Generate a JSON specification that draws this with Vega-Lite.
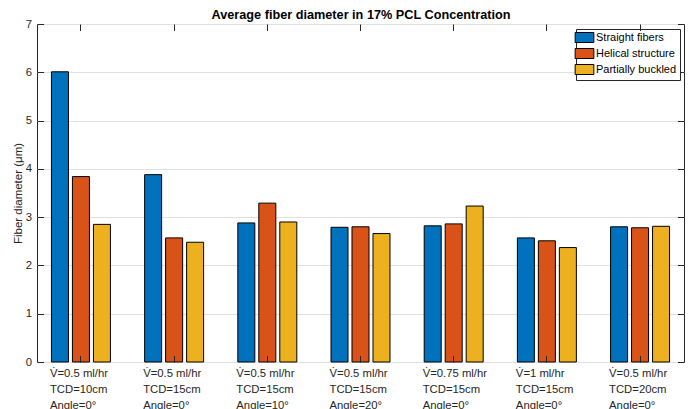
{
  "$schema": "https://vega.github.io/schema/vega-lite/v6.json",
  "width": 647,
  "height": 338,
  "autosize": {"type": "none"},
  "padding": {"left": 37, "top": 24, "right": 9, "bottom": 47},
  "background": "white",
  "config": {
    "font": "Liberation Sans",
    "view": {"stroke": "#262626", "strokeWidth": 1}
  },
  "data": {
    "values": [
      {"setting": "V\u0307=0.5 ml/hr|\u00a0TCD=10cm|\u00a0Angle=0°", "structure": "Straight fibers", "diameter": 6.01},
      {"setting": "V\u0307=0.5 ml/hr|\u00a0TCD=10cm|\u00a0Angle=0°", "structure": "Helical structure", "diameter": 3.84},
      {"setting": "V\u0307=0.5 ml/hr|\u00a0TCD=10cm|\u00a0Angle=0°", "structure": "Partially buckled", "diameter": 2.85},
      {"setting": "V\u0307=0.5 ml/hr|\u00a0TCD=15cm|\u00a0Angle=0°", "structure": "Straight fibers", "diameter": 3.88},
      {"setting": "V\u0307=0.5 ml/hr|\u00a0TCD=15cm|\u00a0Angle=0°", "structure": "Helical structure", "diameter": 2.57},
      {"setting": "V\u0307=0.5 ml/hr|\u00a0TCD=15cm|\u00a0Angle=0°", "structure": "Partially buckled", "diameter": 2.48},
      {"setting": "V\u0307=0.5 ml/hr|\u00a0TCD=15cm|\u00a0Angle=10°", "structure": "Straight fibers", "diameter": 2.88},
      {"setting": "V\u0307=0.5 ml/hr|\u00a0TCD=15cm|\u00a0Angle=10°", "structure": "Helical structure", "diameter": 3.29},
      {"setting": "V\u0307=0.5 ml/hr|\u00a0TCD=15cm|\u00a0Angle=10°", "structure": "Partially buckled", "diameter": 2.9},
      {"setting": "V\u0307=0.5 ml/hr|\u00a0TCD=15cm|\u00a0Angle=20°", "structure": "Straight fibers", "diameter": 2.79},
      {"setting": "V\u0307=0.5 ml/hr|\u00a0TCD=15cm|\u00a0Angle=20°", "structure": "Helical structure", "diameter": 2.8},
      {"setting": "V\u0307=0.5 ml/hr|\u00a0TCD=15cm|\u00a0Angle=20°", "structure": "Partially buckled", "diameter": 2.66},
      {"setting": "V\u0307=0.75 ml/hr|\u00a0TCD=15cm|\u00a0Angle=0°", "structure": "Straight fibers", "diameter": 2.82},
      {"setting": "V\u0307=0.75 ml/hr|\u00a0TCD=15cm|\u00a0Angle=0°", "structure": "Helical structure", "diameter": 2.86},
      {"setting": "V\u0307=0.75 ml/hr|\u00a0TCD=15cm|\u00a0Angle=0°", "structure": "Partially buckled", "diameter": 3.23},
      {"setting": "V\u0307=1 ml/hr|\u00a0TCD=15cm|\u00a0Angle=0°", "structure": "Straight fibers", "diameter": 2.57},
      {"setting": "V\u0307=1 ml/hr|\u00a0TCD=15cm|\u00a0Angle=0°", "structure": "Helical structure", "diameter": 2.51},
      {"setting": "V\u0307=1 ml/hr|\u00a0TCD=15cm|\u00a0Angle=0°", "structure": "Partially buckled", "diameter": 2.37},
      {"setting": "V\u0307=0.5 ml/hr|\u00a0TCD=20cm|\u00a0Angle=0°", "structure": "Straight fibers", "diameter": 2.8},
      {"setting": "V\u0307=0.5 ml/hr|\u00a0TCD=20cm|\u00a0Angle=0°", "structure": "Helical structure", "diameter": 2.78},
      {"setting": "V\u0307=0.5 ml/hr|\u00a0TCD=20cm|\u00a0Angle=0°", "structure": "Partially buckled", "diameter": 2.81}
    ]
  },
  "layer": [
    {
      "mark": {"type": "bar", "stroke": "#000000", "strokeWidth": 1},
      "encoding": {
        "x": {
          "field": "setting",
          "type": "nominal",
          "sort": null,
          "scale": {"paddingInner": 0.367, "paddingOuter": 0.155},
          "axis": {
            "orient": "bottom",
            "title": null,
            "domain": false,
            "labelExpr": "split(datum.label, '|')",
            "labelAngle": 0,
            "labelAlign": "left",
            "labelBaseline": "top",
            "labelOffset": -31,
            "labelPadding": 11.5,
            "labelLineHeight": 16,
            "labelFont": "Liberation Sans",
            "labelFontSize": 11.3,
            "labelColor": "#262626",
            "labelOverlap": false,
            "labelBound": false,
            "tickSize": -6.5,
            "tickColor": "#262626",
            "zindex": 1
          }
        },
        "xOffset": {
          "field": "structure",
          "type": "nominal",
          "sort": null,
          "scale": {"paddingInner": 0.19}
        },
        "y": {
          "field": "diameter",
          "type": "quantitative",
          "scale": {"domain": [0, 7], "nice": false},
          "axis": {
            "orient": "left",
            "title": "Fiber diameter (μm)",
            "titleFont": "Liberation Sans",
            "titleFontSize": 11.5,
            "titleFontWeight": "normal",
            "titleColor": "#262626",
            "titlePadding": 2,
            "values": [0, 1, 2, 3, 4, 5, 6, 7],
            "domain": false,
            "grid": true,
            "gridColor": "#e0e0e0",
            "labelFont": "Liberation Sans",
            "labelFontSize": 11.3,
            "labelColor": "#262626",
            "labelPadding": 12,
            "tickSize": -6.5,
            "tickColor": "#262626"
          }
        },
        "color": {
          "field": "structure",
          "type": "nominal",
          "sort": null,
          "scale": {
            "domain": ["Straight fibers", "Helical structure", "Partially buckled"],
            "range": ["#0072BD", "#D95319", "#EDB120"]
          },
          "legend": {
            "title": null,
            "orient": "top-right",
            "offset": 4.5,
            "symbolType": "M-1.87,-1H1.87V1H-1.87Z",
            "symbolSize": 100,
            "symbolStrokeColor": "#000000",
            "symbolStrokeWidth": 1,
            "symbolOpacity": 1,
            "labelFont": "Liberation Sans",
            "labelFontSize": 11,
            "labelColor": "#000000",
            "labelOffset": 6,
            "rowPadding": 1,
            "padding": 3,
            "strokeColor": "#262626",
            "fillColor": "#ffffff"
          }
        }
      }
    },
    {
      "mark": {"type": "bar", "opacity": 0},
      "encoding": {
        "x": {
          "field": "setting",
          "type": "nominal",
          "sort": null,
          "axis": {
            "orient": "top",
            "title": "Average fiber diameter in 17% PCL Concentration",
            "titleFont": "Liberation Sans",
            "titleFontSize": 12.7,
            "titleFontWeight": "bold",
            "titleColor": "#000000",
            "titleBaseline": "alphabetic",
            "titlePadding": 5.7,
            "labels": false,
            "domain": false,
            "minExtent": 0,
            "maxExtent": 0,
            "tickSize": -6.5,
            "tickColor": "#262626",
            "zindex": 1
          }
        },
        "y": {
          "field": "diameter",
          "type": "quantitative",
          "axis": {
            "orient": "right",
            "title": null,
            "labels": false,
            "grid": false,
            "domain": false,
            "minExtent": 0,
            "maxExtent": 0,
            "values": [0, 1, 2, 3, 4, 5, 6, 7],
            "tickSize": -6.5,
            "tickColor": "#262626"
          }
        }
      }
    }
  ]
}
